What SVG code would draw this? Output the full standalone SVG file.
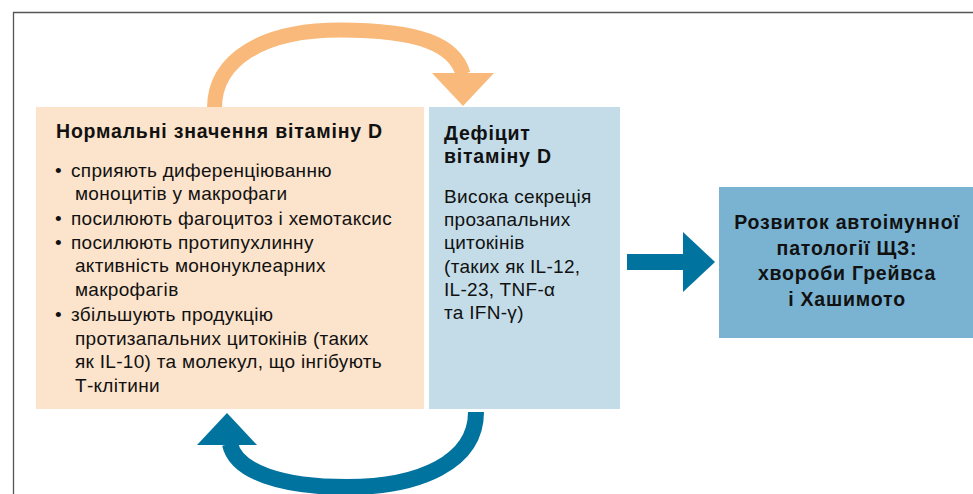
<svg xmlns="http://www.w3.org/2000/svg" width="973" height="494" viewBox="0 0 973 494">
<defs>
<style>
.t{font-family:"Liberation Sans","DejaVu Sans",sans-serif;fill:#111;}
.n{font-size:19px;letter-spacing:0.3px;}
.h{font-size:19.5px;font-weight:bold;letter-spacing:0.8px;}
</style>
</defs>
<rect x="0" y="0" width="973" height="494" fill="#fff"/>
<path d="M13.5,494 V12.5 H973" fill="none" stroke="#555" stroke-width="1.3"/>
<g id="connectors">
<path d="M214.5,108 C214.5,60 262,30 340,30 C420,30 455,45 463,74" fill="none" stroke="#F8B97A" stroke-width="15"/>
<polygon points="432,73 494,73 463,106" fill="#F8B97A"/>
<path d="M476,412 C476,462 420,487 347,487 C282,487 236,472 230,444" fill="none" stroke="#00739E" stroke-width="16"/>
<polygon points="197,445 257,445 227,413" fill="#00739E"/>
<path d="M627,262 H684" stroke="#00739E" stroke-width="16" fill="none"/>
<polygon points="683,232 715,262 683,292" fill="#00739E"/>
</g>
<g id="normal">
<rect x="36" y="107" width="388" height="302" fill="#FCE3CB"/>
<text class="t h" x="56" y="138">Нормальні значення вітаміну D</text>
<g class="t n">
<text x="55" y="177">•</text><text x="71" y="177">сприяють диференціюванню</text>
<text x="75" y="200">моноцитів у макрофаги</text>
<text x="55" y="225">•</text><text x="71" y="225">посилюють фагоцитоз і хемотаксис</text>
<text x="55" y="249">•</text><text x="71" y="249">посилюють протипухлинну</text>
<text x="75" y="272">активність мононуклеарних</text>
<text x="75" y="296">макрофагів</text>
<text x="55" y="321">•</text><text x="71" y="321">збільшують продукцію</text>
<text x="75" y="345">протизапальних цитокінів (таких</text>
<text x="75" y="368">як IL-10) та молекул, що інгібують</text>
<text x="75" y="392">Т-клітини</text>
</g>
</g>
<g id="deficit">
<rect x="429" y="107" width="191" height="302" fill="#C3DCE8"/>
<text class="t h" x="444" y="140">Дефіцит</text>
<text class="t h" x="444" y="163">вітаміну D</text>
<g class="t n">
<text x="444" y="203">Висока секреція</text>
<text x="444" y="226">прозапальних</text>
<text x="444" y="249">цитокінів</text>
<text x="444" y="273">(таких як IL-12,</text>
<text x="444" y="296">IL-23, TNF-α</text>
<text x="444" y="319">та IFN-γ)</text>
</g>
</g>
<g id="outcome">
<rect x="719" y="187" width="254" height="151" fill="#7AB3D2"/>
<g class="t h" text-anchor="middle">
<text x="847" y="229">Розвиток автоімунної</text>
<text x="847" y="255">патології ЩЗ:</text>
<text x="847" y="280">хвороби Грейвса</text>
<text x="847" y="306">і Хашимото</text>
</g>
</g>
</svg>
